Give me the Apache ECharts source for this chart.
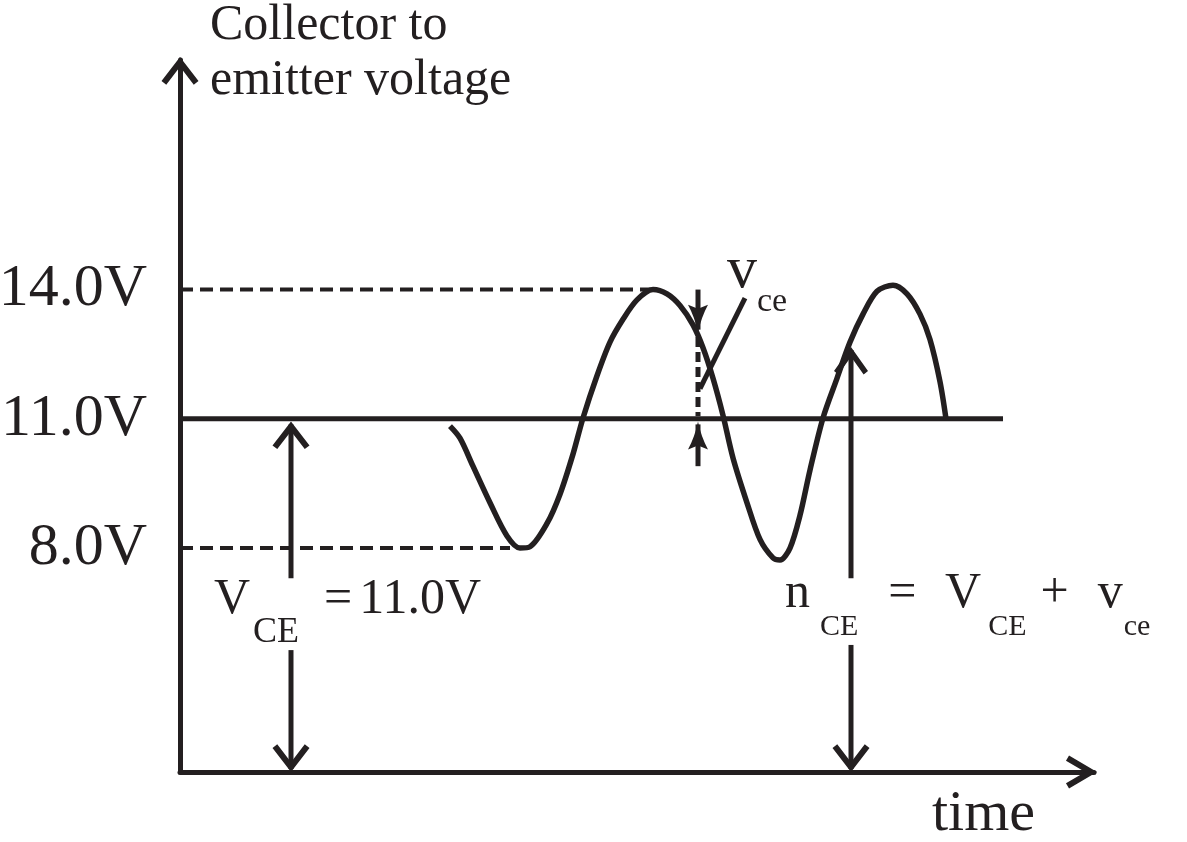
<!DOCTYPE html>
<html><head><meta charset="utf-8">
<script src="https://cdn.jsdelivr.net/npm/echarts@6/dist/echarts.min.js"></script>
<style>html,body{margin:0;padding:0;background:#fff}#chart{width:1187px;height:842px}</style>
</head><body><div id="chart"></div>
<script>
// ---- data (time in arbitrary units, voltage in volts) ----
const timeVals = [27.0, 28.0, 29.3, 31.0, 32.7, 34.0, 35.0, 36.7, 38.0, 39.3, 40.3, 41.7, 43.0, 44.3, 45.7, 47.3, 48.7, 50.0, 51.3, 52.3, 53.3, 54.3, 55.3, 56.7, 58.0, 59.3, 60.0, 61.0, 62.0, 63.0, 64.3, 65.7, 67.0, 68.3, 69.7, 71.3, 72.7, 74.0, 75.0, 76.0, 76.6];
const vceVals  = [10.83, 10.55, 9.90, 9.05, 8.28, 8.0, 8.03, 8.57, 9.25, 10.18, 11.02, 12.0, 12.78, 13.31, 13.76, 14.0, 13.90, 13.63, 13.18, 12.65, 11.94, 11.08, 10.09, 9.05, 8.20, 7.77, 7.72, 8.0, 8.76, 9.81, 11.02, 11.94, 12.78, 13.43, 13.96, 14.10, 13.90, 13.43, 12.84, 11.86, 11.0];
const levelVals = [8, 11, 14];
const levelLabels = ['8.0V', '11.0V', '14.0V'];
const quiescentV = 11.0, peakV = 14.0, troughV = 8.0;
const quiescentEnd = 82.3, peakDashEnd = 47.7, troughDashEnd = 33.0;
const yMin = 2.8, yMax = 19.33, xMin = 0, xMax = 91.4;
const VCEArrowT = 11.1, VCEArrowTop = 10.87, VCEGapTop = 7.30, VCEGapBot = 5.63;
const nCEArrowT = 67.1, nCEArrowTop = 12.6, nCEGapTop = 7.30, nCEGapBot = 5.75;
const vceT = 51.8, vceShaftTop = 14.0, vceTip = 13.07, vceDashTop = 12.9, vceDashBot = 11.06, vceUpTip = 10.87, vceUpBot = 9.9;
const pointerLine = [[56.5, 13.8], [52.0, 11.7]];

const F = '"Liberation Serif", "Times New Roman", serif';
const C = '#231f20';
const chevY = 'path://M18.5,0L37,24L32.25,27.66L18.5,9.8L4.75,27.66L0,24Z';
const chevX = 'path://M16.5,0L33,28L27.83,31.05L16.5,11.8L5.17,31.05L0,28Z';
const barb = 'path://M10,0Q13,15 20,28L10,24L0,28Q7,15 10,0Z';
const chevSize = [37, 27.66];

function up(v, sym, size) { return {value: v, symbol: sym, symbolSize: size, symbolRotate: 0, symbolOffset: [0, size[1] / 2 - 3]}; }
function down(v, sym, size) { return {value: v, symbol: sym, symbolSize: size, symbolRotate: 180, symbolOffset: [0, -(size[1] / 2 - 3)]}; }
function seg(data, extra) {
  return Object.assign({
    type: 'line', data: data, symbol: 'none', showSymbol: true, clip: false, silent: true, animation: false,
    lineStyle: {color: C, width: 5, cap: 'butt'}, itemStyle: {color: C, borderWidth: 0}, z: 3
  }, extra || {});
}

const chart = echarts.init(document.getElementById('chart'), null, {renderer: 'canvas'});
chart.setOption({
  backgroundColor: '#ffffff',
  animation: false,
  grid: {left: 180, right: 93, top: 60, bottom: 70, containLabel: false, outerBoundsMode: 'none'},
  xAxis: {
    type: 'value', min: xMin, max: xMax,
    axisLine: {show: true, lineStyle: {color: C, width: 5}, symbol: ['none', chevX], symbolSize: [33, 31.05], symbolOffset: [0, -12.5]},
    axisTick: {show: false}, axisLabel: {show: false}, splitLine: {show: false}
  },
  yAxis: {
    type: 'value', min: yMin, max: yMax,
    name: 'Collector to\nemitter voltage', nameLocation: 'end', nameGap: 6.5,
    nameTextStyle: {fontFamily: F, fontSize: 50, lineHeight: 55, color: C, align: 'left', verticalAlign: 'middle', padding: [0, 0, 0, 30]},
    axisLine: {show: true, lineStyle: {color: C, width: 5}, symbol: ['none', chevY], symbolSize: chevSize, symbolOffset: [0, -10.83]},
    axisTick: {show: false}, splitLine: {show: false},
    axisLabel: {
      show: true, customValues: levelVals, margin: 33, fontFamily: F, fontSize: 60, color: C,
      formatter: function (v) { const i = levelVals.indexOf(v); return i >= 0 ? levelLabels[i] : ''; }
    }
  },
  series: [
    seg(timeVals.map((t, i) => [t, vceVals[i]]), {smooth: 0.3, z: 4, lineStyle: {color: C, width: 5.5}}),
    seg([[xMin, quiescentV], [quiescentEnd, quiescentV]]),
    seg([[xMin, peakV], [peakDashEnd, peakV]], {lineStyle: {color: C, width: 4, type: [13, 7]}}),
    seg([[xMin, troughV], [troughDashEnd, troughV]], {lineStyle: {color: C, width: 4, type: [13, 7]}}),
    // V_CE arrow
    seg([up([VCEArrowT, VCEArrowTop], chevY, chevSize), [VCEArrowT, VCEGapTop]]),
    seg([[VCEArrowT, VCEGapBot], down([VCEArrowT, yMin + 0.07], chevY, chevSize)]),
    // n_CE arrow
    seg([up([nCEArrowT, nCEArrowTop], chevY, [34, 27.66]), [nCEArrowT, nCEGapTop]]),
    seg([[nCEArrowT, nCEGapBot], down([nCEArrowT, yMin + 0.07], chevY, chevSize)]),
    // v_ce marker
    seg([[vceT, vceShaftTop], down([vceT, vceTip], barb, [20, 28])]),
    seg([[vceT, vceDashTop], [vceT, vceDashBot]], {lineStyle: {color: C, width: 5, type: [10, 5]}}),
    seg([up([vceT, vceUpTip], barb, [20, 28]), [vceT, vceUpBot]]),
    seg(pointerLine)
  ],
  graphic: [
    {type: 'text', x: 214, y: 575, silent: true, style: {
      text: '{b|V}{s|CE}{eq|=}{n|11.0V}', fill: C, fontFamily: F, fontSize: 50, textAlign: 'left', textVerticalAlign: 'top',
      rich: {
        b: {fontFamily: F, fontSize: 50, lineHeight: 50, verticalAlign: 'top', fill: C},
        s: {fontFamily: F, fontSize: 36, lineHeight: 36, verticalAlign: 'top', padding: [39.5, 0, 0, 3], fill: C},
        eq: {fontFamily: F, fontSize: 50, lineHeight: 50, verticalAlign: 'top', padding: [0, 0, 0, 25], fill: C},
        n: {fontFamily: F, fontSize: 50, lineHeight: 50, verticalAlign: 'top', padding: [0, 0, 0, 7], fill: C}
      }}},
    {type: 'text', x: 785, y: 569, silent: true, style: {
      text: '{b|n}{s1|CE}{eq|=}{v2|V}{s2|CE}{pl|+}{v3|v}{s3|ce}', fill: C, fontFamily: F, fontSize: 50, textAlign: 'left', textVerticalAlign: 'top',
      rich: {
        b: {fontFamily: F, fontSize: 50, lineHeight: 50, verticalAlign: 'top', fill: C},
        s1: {fontFamily: F, fontSize: 30, lineHeight: 30, verticalAlign: 'top', padding: [43.5, 0, 0, 10], fill: C},
        eq: {fontFamily: F, fontSize: 50, lineHeight: 50, verticalAlign: 'top', padding: [0, 0, 0, 30], fill: C},
        v2: {fontFamily: F, fontSize: 50, lineHeight: 50, verticalAlign: 'top', padding: [0, 0, 0, 28.5], fill: C},
        s2: {fontFamily: F, fontSize: 30, lineHeight: 30, verticalAlign: 'top', padding: [43.5, 0, 0, 7], fill: C},
        pl: {fontFamily: F, fontSize: 50, lineHeight: 50, verticalAlign: 'top', padding: [0, 0, 0, 14], fill: C},
        v3: {fontFamily: F, fontSize: 50, lineHeight: 50, verticalAlign: 'top', padding: [0, 0, 0, 29], fill: C},
        s3: {fontFamily: F, fontSize: 30, lineHeight: 30, verticalAlign: 'top', padding: [43.5, 0, 0, 1], fill: C}
      }}},
    {type: 'text', x: 727, y: 241, silent: true, style: {
      text: '{v|v}{s|ce}', fill: C, fontFamily: F, fontSize: 60, textAlign: 'left', textVerticalAlign: 'top',
      rich: {
        v: {fontFamily: F, fontSize: 60, lineHeight: 60, verticalAlign: 'top', fill: C},
        s: {fontFamily: F, fontSize: 34, lineHeight: 34, verticalAlign: 'top', padding: [43.9, 0, 0, 0], fill: C}
      }}},
    {type: 'text', x: 932, y: 815, silent: true, style: {
      text: 'time', fill: C, fontFamily: F, fontSize: 58, textAlign: 'left', textVerticalAlign: 'middle'}}
  ]
});
</script>
</body></html>
